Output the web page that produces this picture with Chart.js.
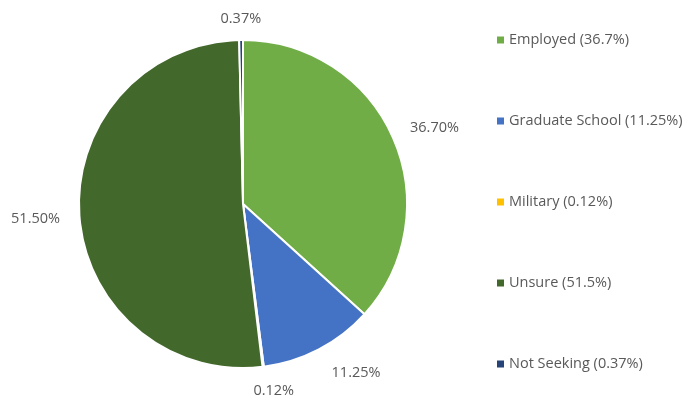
<!DOCTYPE html>
<html>
<head>
<meta charset="utf-8">
<script src="https://cdn.jsdelivr.net/npm/chart.js@4/dist/chart.umd.min.js"></script>
<style>
  html, body { margin: 0; padding: 0; background: #fff; }
  #wrap { width: 697px; height: 396px; }
</style>
</head>
<body>
<div id="wrap"><canvas id="outcomeChart"></canvas></div>
<script>
const categories = ['Employed', 'Graduate School', 'Military', 'Unsure', 'Not Seeking'];
const percentValues = [36.70, 11.25, 0.12, 51.50, 0.37];
const legendPercent = ['36.7%', '11.25%', '0.12%', '51.5%', '0.37%'];
const sliceColors = ['#70AD47', '#4472C4', '#FFC000', '#43682B', '#264478'];

const FONT = '"Open Sans", Lato, sans-serif';
const TEXT_COLOR = '#595959';

// label distance from center for each slice (small slices get pulled in like Excel does)
const labelPlugin = {
  id: 'sliceLabels',
  afterDatasetsDraw(chart, args, opts) {
    const ctx = chart.ctx;
    const meta = chart.getDatasetMeta(0);
    ctx.save();
    ctx.font = opts.fontSize + 'px ' + FONT;
    ctx.fillStyle = TEXT_COLOR;
    ctx.textAlign = 'center';
    ctx.textBaseline = 'middle';
    meta.data.forEach((arc, i) => {
      const mid = (arc.startAngle + arc.endAngle) / 2 + (opts.angleNudge[i] || 0);
      const r = opts.radius[i];
      const x = arc.x + Math.cos(mid) * r;
      const y = arc.y + Math.sin(mid) * r;
      ctx.fillText(percentValues[i].toFixed(2) + '%', x, y);
    });
    ctx.restore();
  }
};

const sideLegend = {
  id: 'sideLegend',
  afterDraw(chart, args, opts) {
    const ctx = chart.ctx;
    ctx.save();
    ctx.font = opts.fontSize + 'px ' + FONT;
    ctx.textBaseline = 'middle';
    ctx.textAlign = 'left';
    categories.forEach((name, i) => {
      const y = opts.top + i * opts.step;
      ctx.fillStyle = sliceColors[i];
      ctx.fillRect(opts.left, y - 3.5, 7, 7);
      ctx.fillStyle = TEXT_COLOR;
      ctx.fillText(name + ' (' + legendPercent[i] + ')', opts.left + 12, y);
    });
    ctx.restore();
  }
};

const ctx = document.getElementById('outcomeChart').getContext('2d');
const outcomeChart = new Chart(ctx, {
  type: 'pie',
  data: {
    labels: categories,
    datasets: [{
      data: percentValues,
      backgroundColor: sliceColors,
      borderColor: '#ffffff',
      borderWidth: 2
    }]
  },
  options: {
    responsive: true,
    maintainAspectRatio: false,
    animation: false,
    layout: {
      padding: { top: 39, bottom: 27, left: 78, right: 289 }
    },
    plugins: {
      legend: { display: false },
      tooltip: { enabled: false },
      sliceLabels: {
        fontSize: 14.5,
        radius: [206, 203, 189, 208, 185],
        angleNudge: [0.04, -0.11, -0.04, 0, 0]
      },
      sideLegend: {
        fontSize: 14.5,
        left: 497,
        top: 40,
        step: 81
      }
    }
  },
  plugins: [labelPlugin, sideLegend]
});
</script>
</body>
</html>
